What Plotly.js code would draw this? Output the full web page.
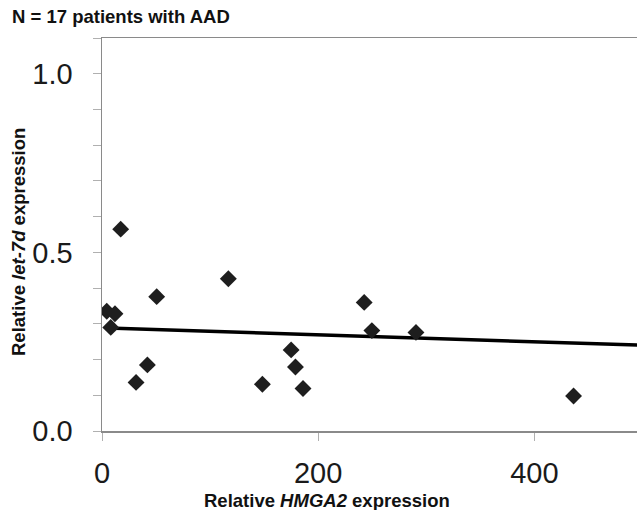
<!DOCTYPE html>
<html>
<head>
<meta charset="utf-8">
<script src="https://cdn.plot.ly/plotly-3.0.1.min.js"></script>
<style>html,body{margin:0;padding:0;background:#fff;overflow:hidden}#chart{width:637px;height:510px}</style>
</head>
<body>
<div id="chart"></div>
<script>
// Relative HMGA2 expression (x) vs relative let-7d expression (y)
var hmga2 = [4.4, 8.1, 12.0, 17.3, 31.5, 42.0, 50.6, 116.9, 148.4, 175.0, 179.0, 186.0, 242.6, 249.7, 290.5, 436.3];
var let7d = [0.335, 0.290, 0.328, 0.565, 0.136, 0.185, 0.376, 0.426, 0.131, 0.227, 0.179, 0.119, 0.360, 0.281, 0.276, 0.098];
// Trend line end points as drawn
var trendX = [5, 500];
var trendY = [0.288, 0.240];
var xTicks = [0, 200, 400];
var yTicks = [0.0, 0.5, 1.0];
var yTickText = ['0.0', '0.5', '1.0'];

var font = 'Liberation Sans, Arial, sans-serif';
var axisGray = '#8a8a8a';

var traces = [
  {x: trendX, y: trendY, mode: 'lines', type: 'scatter',
   line: {color: '#000', width: 3.5}, hoverinfo: 'skip', showlegend: false},
  {x: hmga2, y: let7d, mode: 'markers', type: 'scatter',
   marker: {symbol: 'diamond', size: 13, color: '#1e1e1e', line: {width: 0}}, showlegend: false}
];

var layout = {
  width: 637, height: 510,
  margin: {l: 102, r: 0, t: 38, b: 79},
  paper_bgcolor: '#fff', plot_bgcolor: '#fff',
  showlegend: false,
  title: {text: '<b>N = 17 patients with AAD</b>', font: {family: font, size: 18.5, color: '#111'},
          x: 12/637, xref: 'container', xanchor: 'left', y: 1 - 17/510, yref: 'container', yanchor: 'middle'},
  xaxis: {
    range: [0, 495], tickvals: xTicks, ticktext: xTicks.map(String),
    showgrid: false, zeroline: false,
    showline: true, linecolor: axisGray, linewidth: 1.5, mirror: true,
    ticks: 'outside', ticklen: 8, tickcolor: '#b0b0b0', tickwidth: 1,
    tickfont: {family: font, size: 29, color: '#1a1a1a'}, ticklabelstandoff: 8
  },
  yaxis: {
    range: [0, 1.1], tickvals: yTicks, ticktext: yTickText,
    showgrid: false, zeroline: false,
    showline: true, linecolor: axisGray, linewidth: 1.5,
    ticks: 'outside', ticklen: 8, tickcolor: '#b0b0b0', tickwidth: 1,
    minor: {dtick: 0.1, ticks: 'outside', ticklen: 8, tickcolor: '#b0b0b0', tickwidth: 1, showgrid: false},
    tickfont: {family: font, size: 29, color: '#1a1a1a'}, ticklabelstandoff: 14
  },
  annotations: [
    {text: '<b>Relative <i>HMGA2</i> expression</b>', xref: 'paper', yref: 'paper',
     x: (327 - 102) / 535, y: -(500 - 431) / 393, xanchor: 'center', yanchor: 'middle',
     showarrow: false, font: {family: font, size: 18.5, color: '#111'}},
    {text: '<b>Relative <i>let-7d</i> expression</b>', xref: 'paper', yref: 'paper',
     x: -(102 - 18) / 535, y: (431 - 242) / 393, xanchor: 'center', yanchor: 'middle', textangle: -90,
     showarrow: false, font: {family: font, size: 18.5, color: '#111'}}
  ]
};

Plotly.newPlot('chart', traces, layout, {displayModeBar: false, staticPlot: true});
</script>
</body>
</html>
